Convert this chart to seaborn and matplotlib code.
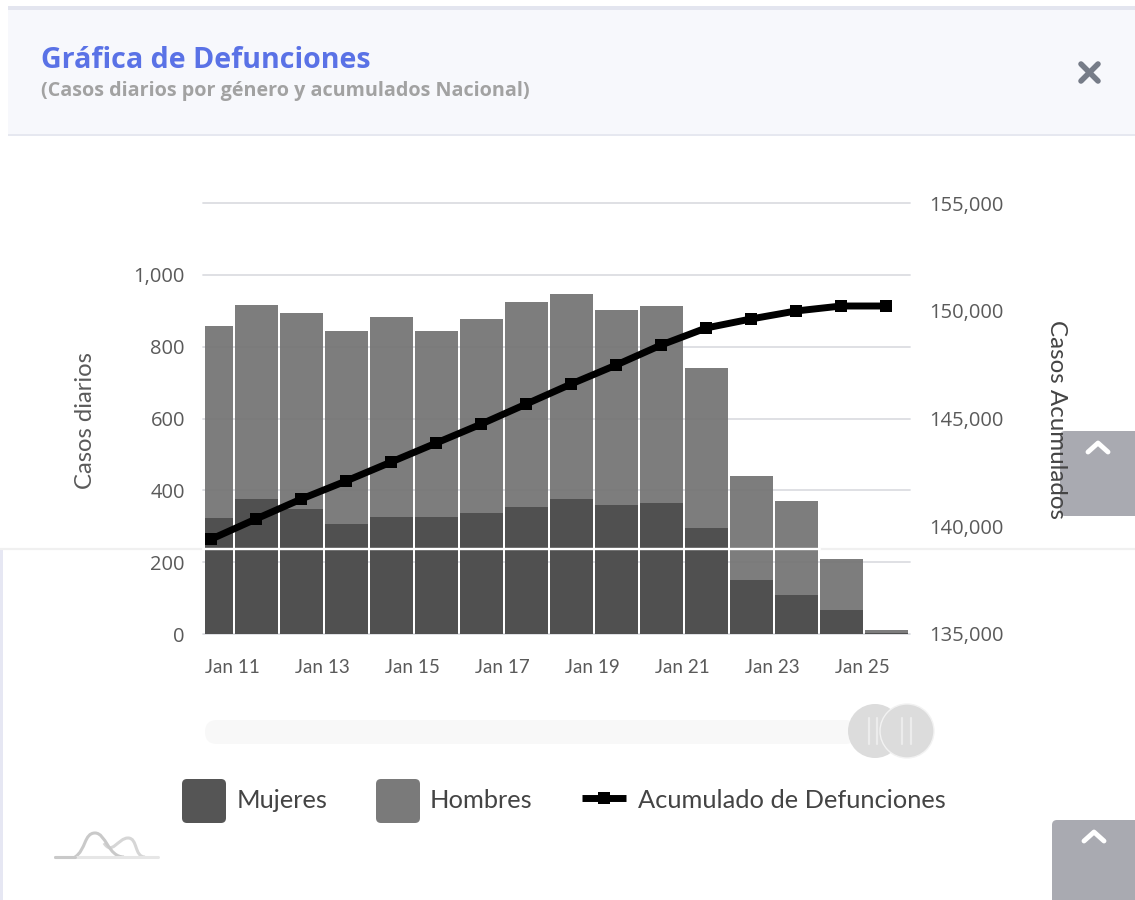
#!/usr/bin/env python3

import numpy as np
import pandas as pd
import matplotlib
matplotlib.use("Agg")
import matplotlib.pyplot as plt
import seaborn as sns
from matplotlib.patches import Circle, FancyBboxPatch, PathPatch, Rectangle
from matplotlib.path import Path

W, H = 1135, 900

dias = ["Jan {}".format(d) for d in range(10, 26)]
mujeres = [323, 376, 348, 306, 326, 326, 337, 354, 376, 359, 365, 295, 150, 109, 67, 4]
hombres = [535, 540, 546, 538, 557, 518, 540, 571, 571, 543, 549, 446, 290, 261, 142, 6]
acumulado = [139400, 140340, 141260, 142100, 142980, 143860, 144740, 145670,
             146600, 147480, 148410, 149200, 149620, 149990, 150220, 150220]
tick_dias = ["Jan 11", "Jan 13", "Jan 15", "Jan 17", "Jan 19", "Jan 21", "Jan 23", "Jan 25"]
ticks_diarios = [0, 200, 400, 600, 800, 1000]
ticks_acum = [135000, 140000, 145000, 150000, 155000]

COLOR_M = "#4f4f4f"
COLOR_H = "#757575"
TICK = "#5a5a5a"
XMIN, XMAX = -0.18, 15.53

sns.set_theme(style="white")
plt.rcParams["font.family"] = ["Lato", "DejaVu Sans"]

df = pd.DataFrame({"dia": dias, "mujeres": mujeres, "hombres": hombres})
df["total"] = df["mujeres"] + df["hombres"]

fig = plt.figure(figsize=(W / 100, H / 100), dpi=100, facecolor="white")

# page furniture behind the chart, in pixel coordinates
ui = fig.add_axes([0, 0, 1, 1], zorder=-1)
ui.set_xlim(0, W)
ui.set_ylim(H, 0)
ui.axis("off")
ui.add_patch(Rectangle((8, 6), W - 8, 130, fc="#f7f8fc", ec="none"))
ui.add_patch(Rectangle((8, 6), W - 8, 4, fc="#e3e5ef", ec="none"))
ui.add_patch(Rectangle((8, 134), W - 8, 2, fc="#e6e8f0", ec="none"))
ui.add_patch(Rectangle((0, 549), 3, H - 549, fc="#e6e7f3", ec="none"))
ui.text(41, 60, "Gráfica de Defunciones", color="#5a72e6", fontsize=20.6, family="Open Sans",
        fontweight="bold", va="center")
ui.text(41, 91, "(Casos diarios por género y acumulados Nacional)", color="#a2a2a2",
        fontsize=14.2, family="Open Sans", fontweight="bold", va="center")
ui.plot([1081, 1098], [64, 81], color="#767c88", lw=4, solid_capstyle="round")
ui.plot([1098, 1081], [64, 81], color="#767c88", lw=4, solid_capstyle="round")

# scroll buttons
for x0, y0, y1, cx, cy in [(1060, 431, 516, 1098, 443), (1052, 820, 905, 1094, 832)]:
    ui.add_patch(FancyBboxPatch((x0 + 4, y0 + 4), W - x0 + 10, y1 - y0 - 8,
                                boxstyle="round,pad=4,rounding_size=5",
                                fc="#a9aab1", ec="none"))
    ui.plot([cx - 10, cx, cx + 10], [cy + 9, cy, cy + 9], color="white", lw=3.5,
            solid_capstyle="round", solid_joinstyle="round")

# range slider
ui.add_patch(FancyBboxPatch((205, 720), 652, 24, boxstyle="round,pad=0,rounding_size=12",
                            fc="#f8f8f8", ec="none"))
ui.add_patch(Circle((875, 731), 27, fc="#dcdcdc", ec="none"))
ui.add_patch(Circle((907, 731), 27, fc="#dcdcdc", ec="#f2f2f2", lw=1))
for bx in [869, 877, 902, 911]:
    ui.plot([bx, bx], [718, 744], color="#ececec", lw=1.6)

# legend
for x0, col, name, tx in [(182, "#555555", "Mujeres", 237), (376, "#7a7a7a", "Hombres", 430)]:
    ui.add_patch(FancyBboxPatch((x0 + 4, 783), 36, 36, boxstyle="round,pad=4,rounding_size=5",
                                fc=col, ec="none"))
    ui.text(tx, 800, name, color="#444444", fontsize=18.3, va="center")
ui.plot([582, 626], [798, 798], color="black", lw=5, solid_capstyle="butt")
ui.plot([604], [798], color="black", marker="s", ms=8, mew=0)
ui.text(638, 800, "Acumulado de Defunciones", color="#444444", fontsize=18.3, va="center")

# small logo, bottom left
ui.plot([55, 158], [857, 857], color="#e6e6e6", lw=2.2)
ui.plot([55, 75], [857, 857], color="#c9c9c9", lw=2.2)
logo_a = Path([(75, 857), (86, 850), (84, 833), (95, 833), (106, 833), (108, 857), (124, 857)],
              [Path.MOVETO] + [Path.CURVE4] * 6)
logo_b = Path([(104, 843), (112, 856), (118, 838), (128, 838), (138, 838), (134, 857), (145, 857)],
              [Path.MOVETO] + [Path.CURVE4] * 6)
ui.add_patch(PathPatch(logo_b, fc="none", ec="#d6d6d6", lw=2.2))
ui.add_patch(PathPatch(logo_a, fc="none", ec="#c9c9c9", lw=2.2))

# chart
ax = fig.add_axes([203 / W, 1 - 634 / H, 707 / W, 431 / H], facecolor="none")
sns.barplot(df, x="dia", y="total", color=COLOR_H, saturation=1, width=0.955, alpha=0.94,
            linewidth=0, ax=ax, zorder=3)
sns.barplot(df, x="dia", y="mujeres", color=COLOR_M, saturation=1, width=0.955, alpha=0.97,
            linewidth=0, ax=ax, zorder=4)
ax.set_ylim(0, 1200)
ax.set_xlim(XMIN, XMAX)
ax.set_yticks(ticks_diarios + [1200])
ax.set_yticklabels(["{:,}".format(t) for t in ticks_diarios] + [""], family="Open Sans")
ax.set_xticks([dias.index(d) - 0.53 for d in tick_dias])
ax.set_xticklabels(tick_dias)
ax.grid(axis="y", color="#dcdde2", lw=1.3, zorder=0)
ax.set_axisbelow(True)
ax.grid(axis="x", visible=False)
for gl in ax.get_ygridlines():
    gl.set_clip_on(False)
ax.tick_params(axis="y", length=0, pad=13, labelsize=14.5, labelcolor=TICK)
ax.tick_params(axis="x", length=0, pad=18, labelsize=13.6, labelcolor=TICK)
ax.set_xlabel("")
ax.set_ylabel("")
sns.despine(ax=ax, left=True, bottom=True, right=True, top=True)

# plot starts two pixels after the grid on the left
bar_clip = Rectangle((XMIN + 0.045, 0), 20, 2000, transform=ax.transData)
for p in ax.patches:
    p.set_clip_path(bar_clip)

ax2 = ax.twinx()
ax2.patch.set_visible(False)
sns.lineplot(x=np.arange(len(dias)), y=acumulado, color="black", lw=5, marker="s", ms=8.5,
             mew=0, estimator=None, ax=ax2, zorder=5)
ax2.set_ylim(135000, 155000)
ax2.set_xlim(XMIN, XMAX)
ax2.set_yticks(ticks_acum)
ax2.set_yticklabels(["{:,}".format(t) for t in ticks_acum], family="Open Sans")
ax2.tick_params(axis="y", length=0, pad=14, labelsize=14.5, labelcolor=TICK)
ax2.grid(False)
sns.despine(ax=ax2, left=True, bottom=True, right=True, top=True)

fig.text(86 / W, 1 - 421 / H, "Casos diarios", rotation=90, color=TICK, fontsize=17.2,
         ha="center", va="center")
fig.text(1057 / W, 1 - 419 / H, "Casos Acumulados", rotation=270, color="#444444", fontsize=17.4,
         ha="center", va="center", zorder=20)

# seam of the stitched screenshot
over = fig.add_axes([0, 0, 1, 1], zorder=10, facecolor="none")
over.set_xlim(0, W)
over.set_ylim(H, 0)
over.axis("off")
over.plot([0, W], [548.5, 548.5], color="#f0f0f0", lw=1.6)
over.plot([203, 820], [548.5, 548.5], color="white", lw=1.6)

fig.savefig("out.png", dpi=100)
